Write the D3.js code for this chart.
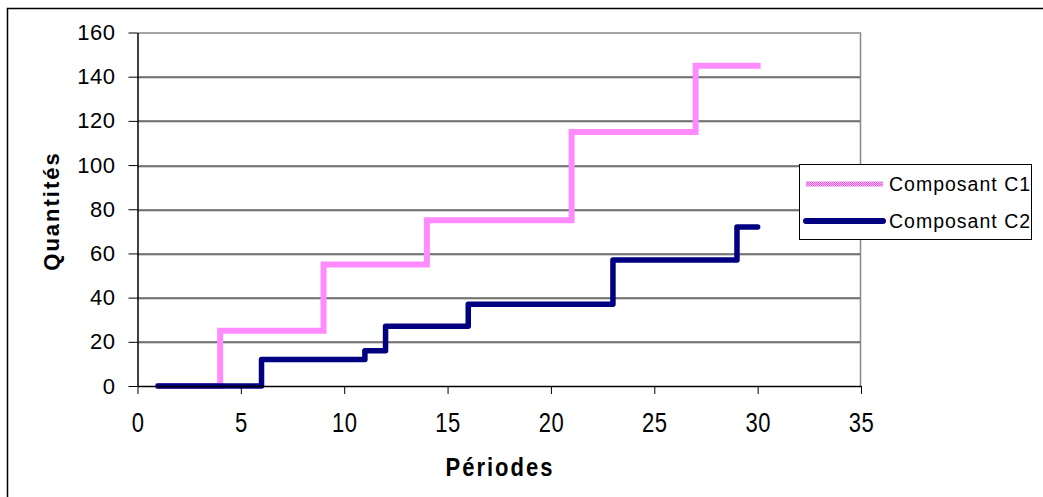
<!DOCTYPE html>
<html>
<head>
<meta charset="utf-8">
<script src="https://cdn.jsdelivr.net/npm/d3@7"></script>
<style>
  body { margin: 0; background: #fff; }
  svg text { font-family: Arial, "Liberation Sans", sans-serif; fill: #000; }
</style>
</head>
<body>
<div id="wrap"></div>
<script>
//  Values, one per period (1..30)
const periods = d3.range(1, 31);
const c1Values = [0, 0, 0, 25, 25, 25, 25, 25, 55, 55, 55, 55, 55, 75, 75, 75, 75, 75, 75, 75,
  115, 115, 115, 115, 115, 115, 145, 145, 145, 145];
const c2Values = [0, 0, 0, 0, 0, 12, 12, 12, 12, 12, 16, 27, 27, 27, 27, 37, 37, 37, 37, 37,
  37, 37, 57, 57, 57, 57, 57, 57, 72, 72];
const seriesNames = ["Composant C1", "Composant C2"];
const xTicks = [0, 5, 10, 15, 20, 25, 30, 35];
const yTicks = [0, 20, 40, 60, 80, 100, 120, 140, 160];

const W = 1043, H = 497;
const margin = { top: 32.5, right: 182, bottom: 111, left: 137.5 };
const width = W - margin.left - margin.right,
  height = H - margin.top - margin.bottom;

const x = d3.scaleLinear().domain([0, 35]).range([0, width]);
const y = d3.scaleLinear().domain([0, 160]).range([height, 0]);

const svg0 = d3.select("#wrap").append("svg")
  .attr("width", W).attr("height", H);

//  checker pattern for the pink line
const pat = svg0.append("defs").append("pattern")
  .attr("id", "checker").attr("patternUnits", "userSpaceOnUse")
  .attr("width", 2).attr("height", 2);
pat.append("rect").attr("width", 2).attr("height", 2).attr("fill", "#ffd6ff");
pat.append("rect").attr("width", 1).attr("height", 1).attr("fill", "#ff40ff");
pat.append("rect").attr("x", 1).attr("y", 1).attr("width", 1).attr("height", 1).attr("fill", "#ff40ff");

//  outer frame (runs off the page at right and bottom)
svg0.append("rect").attr("x", 7.5).attr("y", 8.5)
  .attr("width", W + 20).attr("height", H + 20)
  .attr("fill", "none").attr("stroke", "#000").attr("stroke-width", 1.5);

const svg = svg0.append("g")
  .attr("transform", "translate(" + margin.left + "," + margin.top + ")");

//  gridlines
yTicks.filter(v => v > 0 && v < 160).forEach(v => {
  svg.append("line").attr("x1", 0).attr("x2", width)
    .attr("y1", Math.round(y(v)) + 1.5).attr("y2", Math.round(y(v)) + 1.5)
    .attr("stroke", "#aaa");
  svg.append("line").attr("x1", 0).attr("x2", width)
    .attr("y1", Math.round(y(v)) + 0.5).attr("y2", Math.round(y(v)) + 0.5)
    .attr("stroke", "#111");
});

//  plot area border (top and right in grey)
svg.append("path")
  .attr("d", "M0,0.5H" + (width - 0.5) + "V" + height)
  .attr("fill", "none").attr("stroke", "#888").attr("stroke-width", 1.5);

//  lines
const line = d3.line()
  .x((d, i) => x(periods[i]))
  .y(d => y(d))
  .curve(d3.curveStepAfter);

svg.append("path").datum(c1Values)
  .attr("d", line)
  .attr("fill", "none")
  .attr("stroke", "url(#checker)")
  .attr("stroke-width", 6)
  .attr("stroke-linecap", "square");

svg.append("path").datum(c2Values)
  .attr("d", line)
  .attr("fill", "none")
  .attr("stroke", "#000080")
  .attr("stroke-width", 5.5)
  .attr("stroke-linejoin", "round")
  .attr("stroke-linecap", "round");

//  axes
const yAxis = svg.append("g")
  .call(d3.axisLeft(y).tickValues(yTicks).tickSize(9).tickPadding(13).tickSizeOuter(0));
const xAxis = svg.append("g").attr("transform", "translate(0," + height + ")")
  .call(d3.axisBottom(x).tickValues(xTicks).tickSize(8).tickSizeOuter(0));

[yAxis, xAxis].forEach(a => {
  a.select(".domain").attr("stroke", "#000").attr("stroke-width", 1.5);
  a.selectAll(".tick line").attr("stroke", "#000");
});
yAxis.selectAll("text").style("font-size", "22px").style("letter-spacing", "0.5px");
xAxis.selectAll("text")
  .attr("y", 0).attr("dy", 0)
  .attr("transform", "translate(0,46) scale(1,1.25)")
  .style("font-size", "22px").style("letter-spacing", "0.5px");

//  axis titles
svg0.append("text")
  .attr("transform", "translate(59,211) rotate(-90)")
  .attr("text-anchor", "middle")
  .style("font-size", "22px").style("font-weight", "bold").style("letter-spacing", "2px")
  .text("Quantités");
svg0.append("text")
  .attr("transform", "translate(500,476) scale(1,1.15)")
  .attr("text-anchor", "middle")
  .style("font-size", "22px").style("font-weight", "bold").style("letter-spacing", "2px")
  .text("Périodes");

//  legend
const legend = svg0.append("g");
legend.append("rect").attr("x", 799.5).attr("y", 164.5)
  .attr("width", 232).attr("height", 75)
  .attr("fill", "#fff").attr("stroke", "#000").attr("stroke-width", 1);
const legendStyles = [
  { stroke: "url(#checker)", cap: "butt", w: 5 },
  { stroke: "#000080", cap: "round", w: 6 },
];
seriesNames.forEach((name, i) => {
  const ly = 184 + i * 37;
  legend.append("line")
    .attr("x1", 806).attr("x2", 883).attr("y1", ly).attr("y2", ly)
    .attr("stroke", legendStyles[i].stroke).attr("stroke-width", legendStyles[i].w)
    .attr("stroke-linecap", legendStyles[i].cap);
  legend.append("text").attr("x", 889).attr("y", ly + 7)
    .style("font-size", "19.5px").style("letter-spacing", "1px")
    .text(name);
});
</script>
</body>
</html>
